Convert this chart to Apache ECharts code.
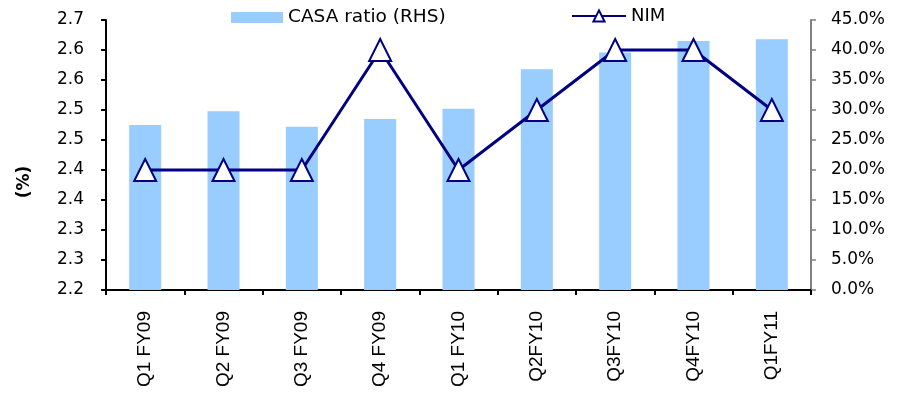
<!DOCTYPE html>
<html>
<head>
<meta charset="utf-8">
<script src="https://cdn.jsdelivr.net/npm/echarts@6/dist/echarts.min.js"></script>
<style>
  html, body { margin: 0; padding: 0; background: #fff; }
  #chart { width: 907px; height: 393px; }
</style>
</head>
<body>
<div id="chart"></div>
<script>
// Quarterly net interest margin against CASA ratio
const quarters = ['Q1 FY09', 'Q2 FY09', 'Q3 FY09', 'Q4 FY09', 'Q1 FY10', 'Q2FY10', 'Q3FY10', 'Q4FY10', 'Q1FY11'];
const casaRatio = [27.5, 29.8, 27.2, 28.5, 30.2, 36.8, 39.6, 41.5, 41.8]; // % (right axis)
const nim = [2.40, 2.40, 2.40, 2.60, 2.40, 2.50, 2.60, 2.60, 2.50];      // % (left axis)
const nimTickLabels = ['2.2', '2.3', '2.3', '2.4', '2.4', '2.5', '2.5', '2.6', '2.6', '2.7'];
const casaTickLabels = ['0.0%', '5.0%', '10.0%', '15.0%', '20.0%', '25.0%', '30.0%', '35.0%', '40.0%', '45.0%'];

const labelFont = 'DejaVu Sans';
const chart = echarts.init(document.getElementById('chart'), null, { renderer: 'canvas' });

chart.setOption({
  animation: false,
  grid: { left: 106, right: 96, top: 20, bottom: 103, containLabel: false },
  legend: [
    {
      data: ['CASA ratio (RHS)'],
      icon: 'rect',
      left: 226, top: 3,
      itemWidth: 52, itemHeight: 11,
      textStyle: { fontFamily: labelFont, fontSize: 18.5, color: '#000' }
    },
    {
      data: ['NIM'],
      left: 566, top: 2,
      itemWidth: 54, itemHeight: 14,
      textStyle: { fontFamily: labelFont, fontSize: 18, color: '#000' }
    }
  ],
  // left axis title, set a little below the plot's middle
  graphic: [
    {
      type: 'text',
      x: 25, y: 182,
      rotation: Math.PI / 2,
      style: {
        text: '(%)',
        font: 'bold 17px "DejaVu Sans"',
        fill: '#000',
        align: 'center',
        verticalAlign: 'middle'
      }
    }
  ],
  xAxis: {
    type: 'category',
    data: quarters,
    boundaryGap: true,
    axisLine: { lineStyle: { color: '#000', width: 2 } },
    axisTick: { show: true, length: 5, lineStyle: { color: '#000', width: 2 } },
    axisLabel: {
      rotate: 90, margin: 21, interval: 0,
      fontFamily: 'Liberation Sans', fontSize: 19, color: '#000'
    },
    splitLine: { show: false }
  },
  yAxis: [
    {
      type: 'value',
      min: 2.2, max: 2.65, interval: 0.05,
      axisLine: { show: true, lineStyle: { color: '#000', width: 2 } },
      axisTick: { show: true, length: 5, lineStyle: { color: '#000', width: 2 } },
      axisLabel: {
        margin: 22,
        fontFamily: labelFont, fontSize: 17, color: '#000',
        formatter: function (v) { return nimTickLabels[Math.round((v - 2.2) / 0.05)]; }
      },
      splitLine: { show: false }
    },
    {
      type: 'value',
      min: 0, max: 45, interval: 5,
      position: 'right',
      axisLine: { show: true, lineStyle: { color: '#808080', width: 2 } },
      axisTick: { show: true, length: 5, lineStyle: { color: '#808080', width: 1.5 } },
      axisLabel: {
        margin: 20,
        fontFamily: labelFont, fontSize: 17, color: '#000',
        formatter: function (v) { return casaTickLabels[Math.round(v / 5)]; }
      },
      splitLine: { show: false }
    }
  ],
  series: [
    {
      name: 'CASA ratio (RHS)',
      type: 'bar',
      yAxisIndex: 1,
      data: casaRatio,
      barWidth: 32,
      itemStyle: { color: '#99CCFF' }
    },
    {
      name: 'NIM',
      type: 'line',
      yAxisIndex: 0,
      data: nim,
      symbol: 'triangle',
      symbolSize: 22,
      showAllSymbol: true,
      lineStyle: { color: '#000080', width: 3 },
      itemStyle: { color: '#FFFFFF', borderColor: '#000080', borderWidth: 2 },
      z: 3
    }
  ]
});
</script>
</body>
</html>
